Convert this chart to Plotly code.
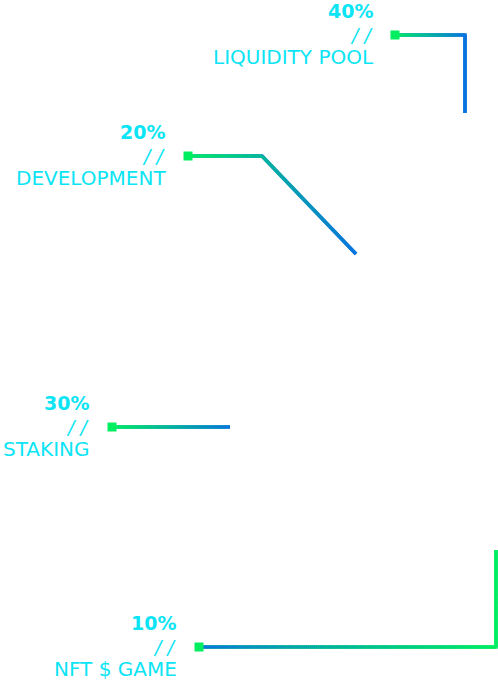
import plotly.graph_objects as go

# Allocation data
labels = ["LIQUIDITY POOL", "DEVELOPMENT", "STAKING", "NFT $ GAME"]
shares = [40, 20, 30, 10]

# Leader-line geometry (pixel space of the 498x681 canvas)
paths = [
    [(395, 35), (465, 35), (465, 113)],
    [(188, 156), (262, 156), (356, 254)],
    [(112, 427), (230, 427)],
    [(199, 647), (496, 647), (496, 550)],
]
text_right = [375, 167, 91, 178]
reverse_grad = [False, False, False, True]

W, H = 498, 681
GREEN = (0, 238, 96)
BLUE = (8, 116, 222)
CYAN = "#0be4f4"
FONT = "DejaVu Sans"
LW = 3.5


def mix(t):
    c = [round(GREEN[i] + (BLUE[i] - GREEN[i]) * t) for i in range(3)]
    return f"rgb({c[0]},{c[1]},{c[2]})"


fig = go.Figure()
shapes = []
annotations = []

for lab, val, path, xr, rev in zip(labels, shares, paths, text_right, reverse_grad):
    xs = [p[0] for p in path]
    ys = [p[1] for p in path]
    x0, x1 = min(xs), max(xs)

    def tcol(x):
        t = (x - x0) / (x1 - x0)
        return 1 - t if rev else t

    # base line so that the corners are filled
    corner_t = tcol(xs[-1]) if len(path) > 2 else 0.5
    fig.add_trace(go.Scatter(
        x=xs, y=ys, mode="lines",
        line=dict(color=mix(corner_t), width=LW),
        hoverinfo="skip", showlegend=False,
    ))

    # gradient overlay, colour follows the horizontal position
    for (ax, ay), (bx, by) in zip(path[:-1], path[1:]):
        n = max(1, int(max(abs(bx - ax), abs(by - ay)) / 2))
        for k in range(n):
            sx = ax + (bx - ax) * k / n
            sy = ay + (by - ay) * k / n
            ex = ax + (bx - ax) * (k + 1) / n
            ey = ay + (by - ay) * (k + 1) / n
            shapes.append(dict(
                type="line", xref="x", yref="y",
                x0=sx, y0=sy, x1=ex, y1=ey,
                line=dict(color=mix(tcol((sx + ex) / 2)), width=LW),
                layer="above",
            ))

    # square marker at the start of the leader
    sx, sy = path[0]
    shapes.append(dict(
        type="rect", xref="x", yref="y",
        x0=sx - 4.5, x1=sx + 4.5, y0=sy - 4.5, y1=sy + 4.5,
        fillcolor="rgb(0,238,96)", line=dict(width=0), layer="above",
    ))

    yc = path[0][1]
    annotations.append(dict(
        x=xr, y=yc - 24, xref="x", yref="y", text=f"<b>{val}%</b>",
        showarrow=False, xanchor="right", yanchor="middle",
        font=dict(family=FONT, size=19, color=CYAN),
    ))
    annotations.append(dict(
        x=xr, y=yc, xref="x", yref="y", text="<i>/ /</i>",
        showarrow=False, xanchor="right", yanchor="middle",
        font=dict(family=FONT, size=19, color=CYAN),
    ))
    annotations.append(dict(
        x=xr + 1, y=yc + 22, xref="x", yref="y", text=lab,
        showarrow=False, xanchor="right", yanchor="middle",
        font=dict(family=FONT, size=20, color=CYAN),
    ))

fig.update_layout(
    width=W, height=H,
    margin=dict(l=0, r=0, t=0, b=0),
    paper_bgcolor="white", plot_bgcolor="white",
    xaxis=dict(range=[0, W], visible=False, fixedrange=True),
    yaxis=dict(range=[H, 0], visible=False, fixedrange=True),
    shapes=shapes, annotations=annotations,
    showlegend=False,
)

# drop the default page margin so the 498x681 canvas fills the window
fig.write_html(
    "out.html",
    config={"displayModeBar": False},
    post_script="document.body.style.margin='0';document.body.style.overflow='hidden';",
)
